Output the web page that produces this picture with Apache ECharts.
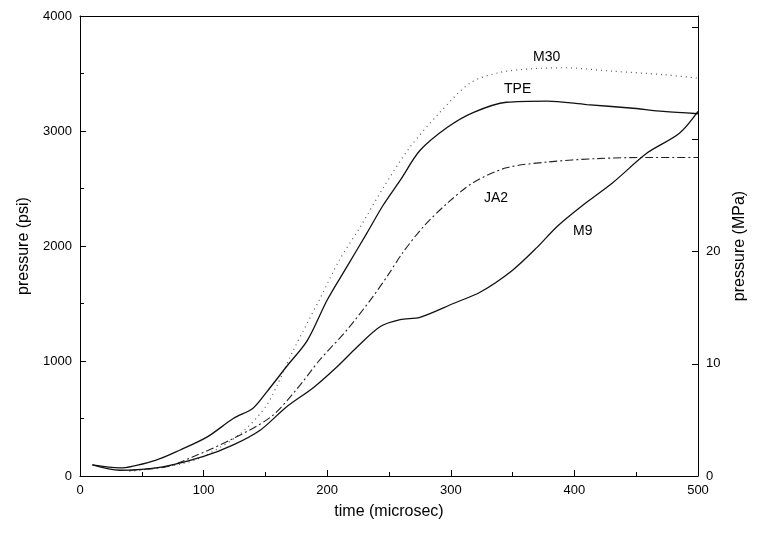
<!DOCTYPE html>
<html><head><meta charset="utf-8">
<script src="https://cdn.jsdelivr.net/npm/echarts@6/dist/echarts.min.js"></script>
<style>html,body{margin:0;padding:0;background:#fff}#c{width:776px;height:535px}</style>
</head><body><div id="c"></div>
<script>
// time (microsec), pressure (psi)
var tpe = [[10,96],[32,70],[62,140],[81,226],[103,340],[124,500],[140,590],[151,730],[167,950],[184,1180],[200,1530],[216,1820],[232,2110],[245,2350],[259,2570],[275,2830],[297,3030],[318,3160],[345,3250],[378,3260],[410,3230],[445,3200],[472,3170],[500,3150]];
var m30 = [[40,40],[80,100],[100,170],[130,370],[150,600],[160,800],[172,1080],[194,1540],[210,1880],[227,2170],[245,2500],[267,2860],[291,3160],[316,3420],[340,3510],[364,3540],[391,3550],[431,3520],[472,3490],[500,3460]];
var ja2 = [[40,50],[70,80],[91,165],[121,310],[154,510],[175,750],[194,1010],[216,1270],[237,1560],[250,1760],[261,1940],[278,2170],[297,2370],[318,2550],[345,2680],[378,2730],[418,2760],[459,2770],[500,2770]];
var m9 = [[10,96],[32,50],[67,80],[100,170],[124,270],[146,400],[167,600],[189,770],[208,950],[224,1120],[243,1300],[259,1360],[275,1380],[302,1500],[324,1600],[350,1790],[370,1990],[386,2170],[405,2340],[431,2550],[459,2810],[485,2980],[500,3170]];
var curveNames = ['M30','TPE','JA2','M9'];

var font = 'Liberation Sans, Arial, sans-serif';
function ax(extra){
  return Object.assign({
    axisLine:{onZero:false,lineStyle:{color:'#000',width:1}},
    axisTick:{inside:true,length:6,lineStyle:{color:'#000'}},
    minorTick:{show:true,splitNumber:2,length:4,lineStyle:{color:'#000'}},
    splitLine:{show:false},
    axisLabel:{color:'#000',fontSize:13,fontFamily:font,formatter:function(v){return String(v);}},
    nameTextStyle:{color:'#000',fontSize:16,fontFamily:font}
  }, extra);
}
var chart = echarts.init(document.getElementById('c'));
chart.setOption({
  animation:false,
  grid:{left:80,right:78,top:16,bottom:59},
  xAxis:[
    ax({type:'value',min:0,max:500,interval:100,name:'time (microsec)',nameLocation:'middle',nameGap:28}),
    ax({type:'value',position:'top',min:0,max:500,interval:100,axisTick:{show:false},minorTick:{show:false},axisLabel:{show:false}})
  ],
  yAxis:[
    ax({type:'value',min:0,max:4000,interval:1000,name:'pressure (psi)',nameLocation:'middle',nameGap:48}),
    ax({type:'value',position:'right',min:0,max:41,interval:10,name:'pressure (MPa)',nameLocation:'middle',nameGap:30,
      minorTick:{show:false},
      axisLabel:{color:'#000',fontSize:13,fontFamily:font,formatter:function(v){return v<=20?String(v):'';}}})
  ],
  series:[
    {name:'M30',type:'line',data:m30,smooth:0.3,showSymbol:false,lineStyle:{color:'#555',width:1.2,type:[1,4]}},
    {name:'TPE',type:'line',data:tpe,smooth:0.3,showSymbol:false,lineStyle:{color:'#111',width:1.3}},
    {name:'JA2',type:'line',data:ja2,smooth:0.3,showSymbol:false,lineStyle:{color:'#222',width:1.1,type:[8,3,2,3]}},
    {name:'M9',type:'line',data:m9,smooth:0.3,showSymbol:false,lineStyle:{color:'#111',width:1.3}}
  ],
  graphic:[
    {type:'text',left:533,top:50,style:{text:curveNames[0],font:'14px '+font,fill:'#000'}},
    {type:'text',left:504,top:82,style:{text:curveNames[1],font:'14px '+font,fill:'#000'}},
    {type:'text',left:484,top:191,style:{text:curveNames[2],font:'14px '+font,fill:'#000'}},
    {type:'text',left:573,top:224,style:{text:curveNames[3],font:'14px '+font,fill:'#000'}}
  ]
});
</script></body></html>
